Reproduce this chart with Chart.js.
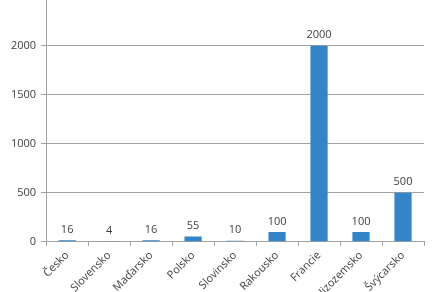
<!DOCTYPE html>
<html>
<head>
<meta charset="utf-8">
<script src="https://cdn.jsdelivr.net/npm/chart.js@4"></script>
<style>
  html, body { margin: 0; padding: 0; background: #fff; overflow: hidden; }
  #wrap { position: absolute; left: 0; top: -15px; width: 438px; height: 320px; }
</style>
</head>
<body>
<div id="wrap"><canvas id="chart" width="438" height="320"></canvas></div>
<script>
// Data
const countries = ["Česko", "Slovensko", "Maďarsko", "Polsko", "Slovinsko", "Rakousko", "Francie", "Nizozemsko", "Švýcarsko"];
const values = [16, 4, 16, 55, 10, 100, 2000, 100, 500];
const yTicks = [0, 500, 1000, 1500, 2000, 2500];

const textColor = "#404040";
const fontFamily = "'Open Sans', sans-serif";

// Value labels above each bar
const valueLabels = {
    id: "valueLabels",
    afterDatasetsDraw(chart) {
        const ctx = chart.ctx;
        const meta = chart.getDatasetMeta(0);
        ctx.save();
        ctx.fillStyle = textColor;
        ctx.font = "11px " + fontFamily;
        ctx.textAlign = "center";
        ctx.textBaseline = "bottom";
        meta.data.forEach((bar, i) => {
            ctx.fillText(String(values[i]), bar.x, bar.y - 5);
        });
        ctx.restore();
    }
};

const chart = new Chart(document.getElementById("chart"), {
    type: "bar",
    data: {
        labels: countries,
        datasets: [{
            data: values,
            backgroundColor: "#3584c8",
            borderWidth: 0,
            categoryPercentage: 1,
            barPercentage: 0.41,
        }, ],
    },
    options: {
        responsive: false,
        animation: false,
        layout: {
            padding: { left: 6, right: 14, top: 4, bottom: 0 },
        },
        plugins: {
            legend: { display: false },
            tooltip: { enabled: false },
        },
        scales: {
            x: {
                offset: true,
                grid: {
                    offset: true,
                    drawOnChartArea: false,
                    drawTicks: true,
                    tickLength: 4,
                    color: "#a0a0a0",
                },
                border: { color: "#a0a0a0" },
                ticks: {
                    color: textColor,
                    font: { family: fontFamily, size: 11 },
                    minRotation: 45,
                    maxRotation: 45,
                    autoSkip: false,
                    padding: 3,
                },
            },
            y: {
                min: 0,
                max: 2500,
                afterBuildTicks: (axis) => {
                    axis.ticks = yTicks.map((v) => ({ value: v }));
                },
                grid: {
                    color: "#a0a0a0",
                    tickLength: 5,
                },
                border: { color: "#a0a0a0" },
                ticks: {
                    color: textColor,
                    font: { family: fontFamily, size: 11 },
                    padding: 5,
                    callback: (v) => String(v),
                },
            },
        },
    },
    plugins: [valueLabels],
});
</script>
</body>
</html>
